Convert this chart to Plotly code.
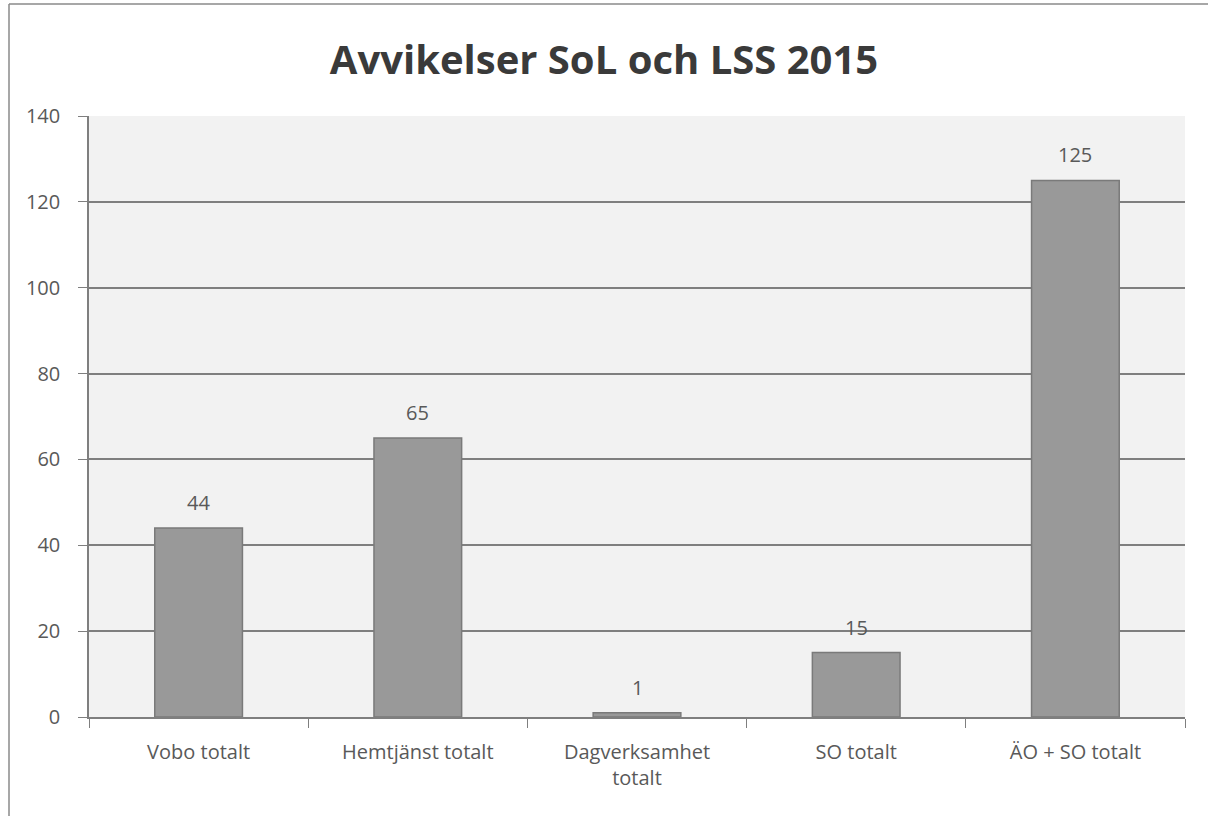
import plotly.graph_objects as go

categories = ["Vobo totalt", "Hemtjänst totalt", "Dagverksamhet<br>totalt", "SO totalt", "ÄO + SO totalt"]
values = [44, 65, 1, 15, 125]
y_ticks = [0, 20, 40, 60, 80, 100, 120, 140]

font_family = "Open Sans, DejaVu Sans, sans-serif"
W, H = 1208, 816
L, R, T, B = 89, 23, 116, 99
pw, ph = W - L - R, H - T - B

fig = go.Figure(go.Bar(
    x=categories, y=values,
    marker=dict(color="#999999", line=dict(color="#7a7a7a", width=1.5)),
    width=0.4,
))

for c, v in zip(categories, values):
    fig.add_annotation(x=c, y=v, text=str(v), showarrow=False, yanchor="bottom", yshift=10,
                       font=dict(size=20, color="#595959", family=font_family))

fig.update_layout(
    width=W, height=H,
    margin=dict(l=L, r=R, t=T, b=B),
    paper_bgcolor="white", plot_bgcolor="#f2f2f2",
    title=dict(text="<b>Avvikelser SoL och LSS 2015</b>", x=0.5, xanchor="center",
               y=1 - 60 / H, yanchor="middle",
               font=dict(size=40, color="#3a3a3a", family=font_family)),
    font=dict(family=font_family, color="#595959", size=18),
    showlegend=False,
)
fig.update_yaxes(range=[0, 140], tickvals=y_ticks, showgrid=True, gridcolor="#7f7f7f", gridwidth=1.5,
                 showline=True, linecolor="#7f7f7f", linewidth=1.5, ticks="outside", ticklen=9,
                 tickcolor="#7f7f7f", tickfont=dict(size=20, color="#595959"), zeroline=False,
                 ticklabelstandoff=14)
fig.update_xaxes(showline=True, linecolor="#7f7f7f", linewidth=1.5, ticks="outside", ticklen=9,
                 tickcolor="#7f7f7f", tickson="boundaries", tickfont=dict(size=20, color="#595959"),
                 ticklabelstandoff=16)

# outer chart frame (left and top edges visible in the reference)
fig.add_shape(type="line", xref="paper", yref="paper",
              x0=(9 - L) / pw, x1=(9 - L) / pw, y0=-(B + 5) / ph, y1=1 + (T - 4) / ph,
              line=dict(color="#8a8a8a", width=1.5))
fig.add_shape(type="line", xref="paper", yref="paper",
              x0=(9 - L) / pw, x1=1 + (R + 5) / pw, y0=1 + (T - 4) / ph, y1=1 + (T - 4) / ph,
              line=dict(color="#8a8a8a", width=1.5))

fig.write_html("out.html", config={"displayModeBar": False},
               post_script="document.body.style.margin='0';")
